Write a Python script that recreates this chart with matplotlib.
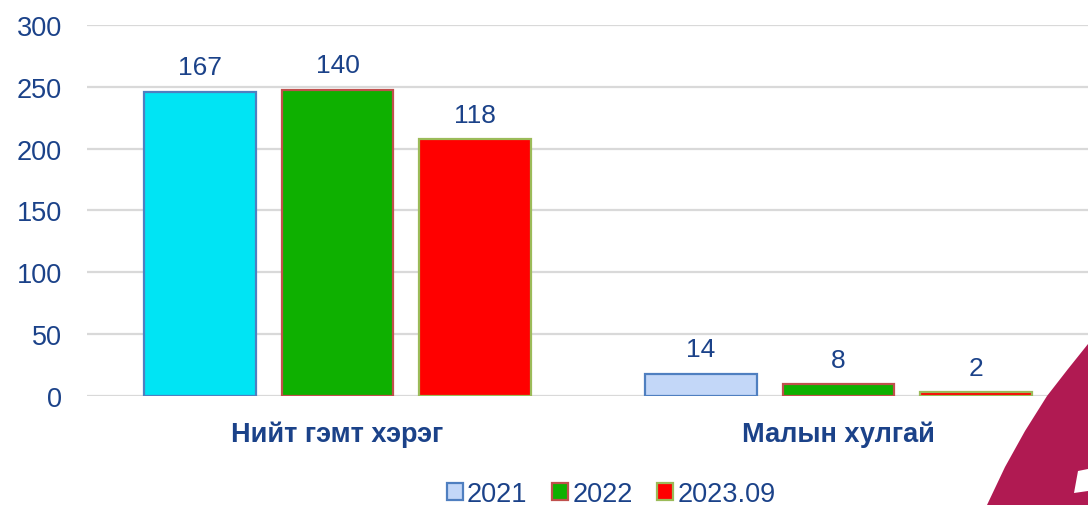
import numpy as np
import matplotlib
matplotlib.use("Agg")
import matplotlib.pyplot as plt
from matplotlib.patches import Patch, Polygon

plt.rcParams['font.family'] = ['Liberation Sans', 'DejaVu Sans']

# data
categories = ['Нийт гэмт хэрэг', 'Малын хулгай']
series = ['2021', '2022', '2023.09']
bar_heights = {
    '2021': [246, 17.8],
    '2022': [247.7, 9.7],
    '2023.09': [207.8, 3.2],
}
bar_labels = {
    '2021': [167, 14],
    '2022': [140, 8],
    '2023.09': [118, 2],
}

txt = '#1b4289'
face = {
    '2021': ['#00e4f4', '#c3d7f8'],
    '2022': ['#0eb000', '#0eb000'],
    '2023.09': ['#ff0000', '#ff0000'],
}
edge = {'2021': '#4f7fc0', '2022': '#c0504d', '2023.09': '#9bbb59'}
legend_face = {'2021': '#c3d7f8', '2022': '#0eb000', '2023.09': '#ff0000'}

fig = plt.figure(figsize=(10.88, 5.06), dpi=100)
ax = fig.add_axes([87 / 1088, 1 - 397 / 506, 1002 / 1088, 371 / 506])

x = np.arange(len(categories))
w = 0.223
step = 0.275
for i, s in enumerate(series):
    pos = x + (i - 1) * step
    bars = ax.bar(pos, bar_heights[s], width=w, color=face[s],
                  edgecolor=edge[s], linewidth=1.6, zorder=3)
    for b, lab in zip(bars, bar_labels[s]):
        ax.annotate(str(lab), (b.get_x() + b.get_width() / 2, b.get_height()),
                    xytext=(0, 9), textcoords='offset points',
                    ha='center', va='bottom', fontsize=19, color=txt)

ax.set_xlim(-0.5, 1.5)
ax.set_ylim(0, 300)
ax.set_yticks(range(0, 301, 50))
ax.grid(axis='y', color='#d9d9d9', linewidth=1.6, zorder=0)
ax.set_axisbelow(True)
for sp in ax.spines.values():
    sp.set_visible(False)
ax.tick_params(axis='y', length=0, pad=18, labelsize=19.5, labelcolor=txt)
ax.tick_params(axis='x', length=0, pad=18)
ax.set_xticks(x)
ax.set_xticklabels(categories, fontsize=19.5, fontweight='bold', color=txt)

handles = [Patch(facecolor=legend_face[s], edgecolor=edge[s], linewidth=1.6)
           for s in series]
fig.legend(handles, series, loc='center', bbox_to_anchor=(611 / 1088, 1 - 495 / 506),
           ncol=3, frameon=False, fontsize=19.5, labelcolor=txt,
           handlelength=0.6, handleheight=0.6, handletextpad=0.15,
           columnspacing=0.9)

# decorative shape in the bottom right corner
pts = [(1088, 345), (1068, 370), (1047, 397), (1025, 432), (1005, 468),
       (987, 506), (1088, 506)]
fig.add_artist(Polygon([(px / 1088, 1 - py / 506) for px, py in pts],
                       closed=True, transform=fig.transFigure,
                       facecolor='#b01a52', edgecolor='none', zorder=5))
fig.add_artist(Polygon([(1078 / 1088, 1 - 472 / 506), (1088 / 1088, 1 - 470 / 506),
                        (1088 / 1088, 1 - 492 / 506), (1074 / 1088, 1 - 494 / 506)],
                       closed=True, transform=fig.transFigure,
                       facecolor='white', edgecolor='none', zorder=6))

fig.savefig('out.png', dpi=100)
